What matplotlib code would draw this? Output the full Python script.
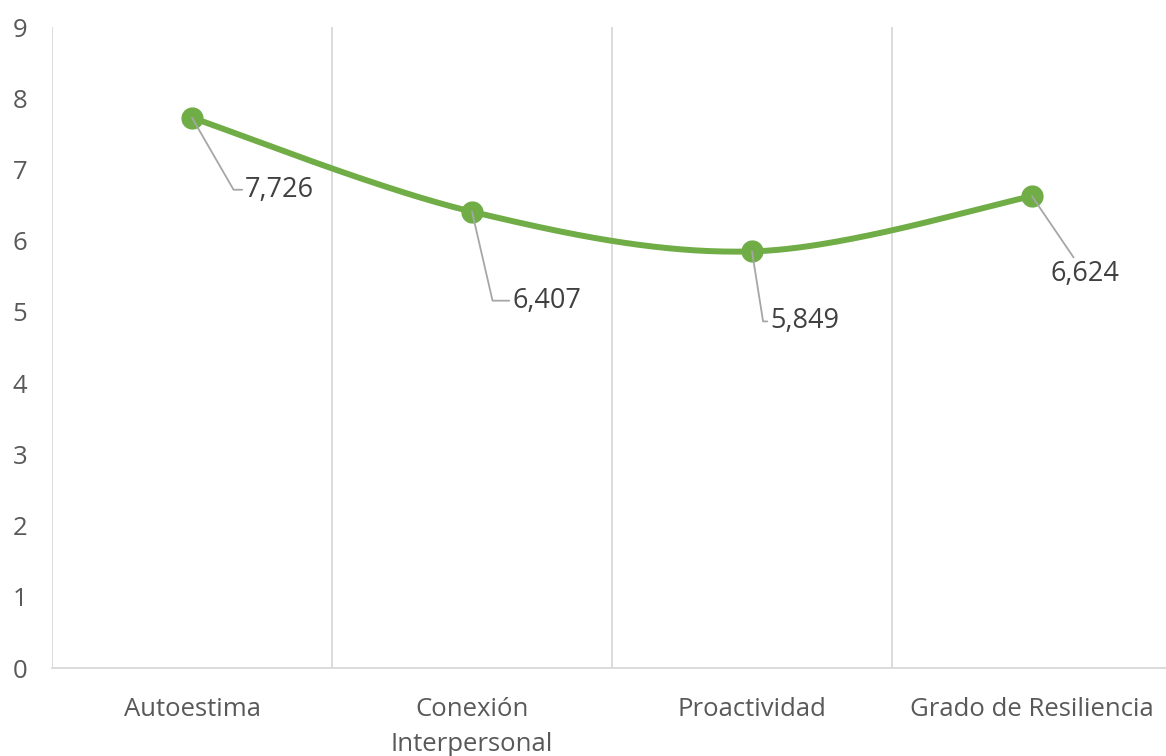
import matplotlib.pyplot as plt
import numpy as np

categories = ["Autoestima", "Conexión\nInterpersonal", "Proactividad", "Grado de Resiliencia"]
values = [7.726, 6.407, 5.849, 6.624]
# label offsets in pixels (dx, dy), alignment and leader angle at the point
label_offsets = [(53, -72), (40, -89), (18, -70), (53, -64)]
label_align = ["left", "left", "left", "center"]
leader_angles = [-60, -77, -81, -45]

green = "#70AD47"
grey_txt = "#595959"
grid_col = "#D9D9D9"

plt.rcParams['font.family'] = ['Open Sans', 'DejaVu Sans']


def smooth(xs, ys, n=60):
    # catmull-rom style bezier, similar to excel's smoothed line
    pts = np.column_stack([xs, ys]).astype(float)
    ext = np.vstack([pts[0], pts, pts[-1]])
    out = []
    t = np.linspace(0, 1, n)[:, None]
    for i in range(len(pts) - 1):
        p0, p1, p2, p3 = ext[i], ext[i + 1], ext[i + 2], ext[i + 3]
        c1 = p1 + (p2 - p0) / 6
        c2 = p2 - (p3 - p1) / 6
        seg = ((1 - t) ** 3) * p1 + 3 * ((1 - t) ** 2) * t * c1 + 3 * (1 - t) * t ** 2 * c2 + t ** 3 * p2
        out.append(seg)
    out = np.vstack(out)
    return out[:, 0], out[:, 1]


fig = plt.figure(figsize=(11.66, 7.56), dpi=100)
ax = fig.add_axes([52 / 1166, 1 - 668 / 756, 1120 / 1166, 641 / 756])

x = np.arange(len(categories))
sx, sy = smooth(x, values)
ax.plot(sx, sy, color=green, lw=4.3, solid_capstyle='round', zorder=3)
ax.plot(x, values, 'o', color=green, ms=15, zorder=4)

for i, v in enumerate(values):
    lbl = f"{v:.3f}".replace(".", ",")
    dx, dy = label_offsets[i]
    if label_align[i] == "left":
        cs = f"angle,angleA=180,angleB={leader_angles[i]},rad=0"
        va = 'center'
    else:
        cs = "arc3,rad=0"
        va = 'top'
    ax.annotate(lbl, (i, v), xytext=(dx, dy), textcoords='offset pixels',
                ha=label_align[i], va=va, fontsize=19.5, color='#404040',
                arrowprops=dict(arrowstyle='-', color='#A6A6A6', lw=1.3,
                                connectionstyle=cs, shrinkA=0, shrinkB=0),
                zorder=5)

ax.set_xlim(-0.5, 3.5)
ax.set_ylim(0, 9)
ax.set_yticks(range(0, 10))
ax.set_xticks(x)
ax.set_xticklabels(categories, linespacing=1.5)
ax.set_xticks(np.arange(-0.5, 4, 1), minor=True)
ax.grid(True, which='minor', axis='x', color=grid_col, lw=1.3)
ax.tick_params(which='both', length=0)
ax.tick_params(axis='y', labelsize=18.5, labelcolor=grey_txt, pad=18)
ax.tick_params(axis='x', labelsize=18.5, labelcolor=grey_txt, pad=21)

for s in ['top', 'right', 'left']:
    ax.spines[s].set_visible(False)
ax.spines['bottom'].set_color(grid_col)
ax.spines['bottom'].set_linewidth(1.3)

fig.savefig("out.png", dpi=100)
